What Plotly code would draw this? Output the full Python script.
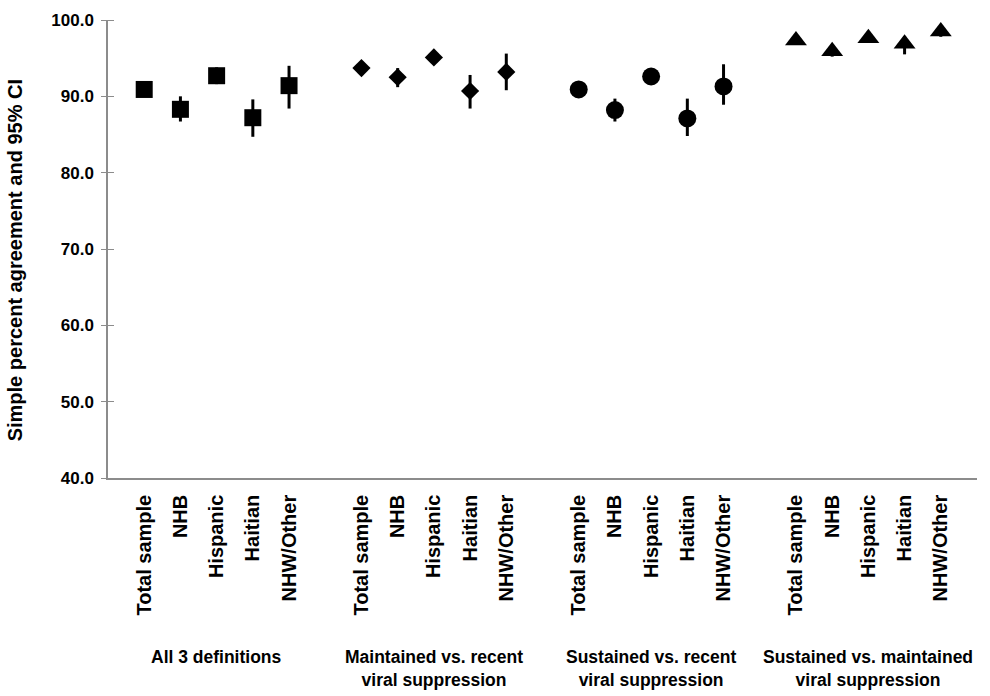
import plotly.graph_objects as go

# ---- data ----
groups = ["All 3 definitions",
          "Maintained vs. recent<br>viral suppression",
          "Sustained vs. recent<br>viral suppression",
          "Sustained vs. maintained<br>viral suppression"]
categories = ["Total sample", "NHB", "Hispanic", "Haitian", "NHW/Other"]
symbols = ["square", "diamond", "circle", "triangle-up"]
marker_sizes = [17, 14, 18, 19]

values = [
    [90.9, 88.3, 92.7, 87.2, 91.4],
    [93.7, 92.5, 95.1, 90.7, 93.2],
    [90.9, 88.2, 92.6, 87.1, 91.3],
    [97.3, 95.9, 97.6, 96.9, 98.5],
]
ci_low = [
    [90.0, 86.7, 91.6, 84.7, 88.4],
    [92.9, 91.2, 94.3, 88.4, 90.8],
    [90.0, 86.7, 91.5, 84.8, 88.9],
    [96.8, 95.2, 97.0, 95.5, 97.8],
]
ci_high = [
    [91.8, 90.0, 93.8, 89.6, 94.0],
    [94.5, 93.7, 95.9, 92.8, 95.6],
    [91.8, 89.7, 93.7, 89.7, 94.2],
    [97.8, 96.6, 98.2, 97.9, 99.2],
]
y_ticks = [40, 50, 60, 70, 80, 90, 100]

FONT = "Liberation Sans, Arial, sans-serif"

fig = go.Figure()
tickvals, ticktext = [], []
for g in range(len(groups)):
    xs = [g * 6 + 1 + i for i in range(len(categories))]
    tickvals += xs
    ticktext += categories
    fig.add_trace(go.Scatter(
        x=xs, y=values[g], mode="markers",
        marker=dict(symbol=symbols[g], size=marker_sizes[g], color="black",
                    line=dict(width=0)),
        error_y=dict(type="data", symmetric=False,
                     array=[h - v for h, v in zip(ci_high[g], values[g])],
                     arrayminus=[v - l for v, l in zip(values[g], ci_low[g])],
                     color="black", thickness=3, width=0),
        showlegend=False, hoverinfo="skip"))

fig.update_layout(
    width=990, height=696,
    margin=dict(l=108, r=13, t=20, b=218),
    paper_bgcolor="white", plot_bgcolor="white",
    font=dict(family=FONT, color="black"),
)
fig.update_xaxes(
    range=[0, 24], tickmode="array", tickvals=tickvals, ticktext=ticktext,
    tickangle=-90, showgrid=False, zeroline=False,
    showline=True, linecolor="#8c8c8c", linewidth=1.5,
    ticks="", ticklabelstandoff=7,
    tickfont=dict(family=FONT, size=20, color="black", weight="bold"),
)
fig.update_yaxes(
    range=[40, 100], tickmode="array", tickvals=y_ticks,
    ticktext=[f"{v:.1f}" for v in y_ticks],
    showgrid=False, zeroline=False,
    showline=True, linecolor="#8c8c8c", linewidth=1.5,
    ticks="outside", ticklen=5, tickcolor="#8c8c8c", tickwidth=1.2,
    minor=dict(tickmode="array", tickvals=y_ticks, ticks="inside",
               ticklen=6, tickcolor="#8c8c8c", tickwidth=1.2, showgrid=False),
    ticklabelstandoff=4,
    tickfont=dict(family=FONT, size=17, color="black", weight="bold"),
)

for g, label in enumerate(groups):
    fig.add_annotation(
        x=g * 6 + 3, xref="x", y=-0.365, yref="paper",
        text=label, showarrow=False, xanchor="center", yanchor="top",
        font=dict(family=FONT, size=17.5, color="black", weight="bold"),
    )

fig.add_annotation(
    x=-0.106, xref="paper", y=0.475, yref="paper",
    text="Simple percent agreement and 95% CI", textangle=-90,
    showarrow=False, xanchor="center", yanchor="middle",
    font=dict(family=FONT, size=20, color="black", weight="bold"),
)

fig.write_html("out.html")
